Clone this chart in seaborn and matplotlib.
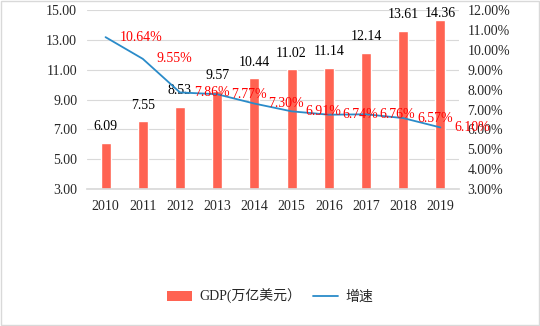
import matplotlib
matplotlib.use("Agg")
import matplotlib.pyplot as plt
import seaborn as sns
import pandas as pd
from matplotlib.patches import Rectangle, Patch
from matplotlib.lines import Line2D

years = ["2010", "2011", "2012", "2013", "2014", "2015", "2016", "2017", "2018", "2019"]
gdp = [6.09, 7.55, 8.53, 9.57, 10.44, 11.02, 11.14, 12.14, 13.61, 14.36]
growth = [10.64, 9.55, 7.86, 7.77, 7.30, 6.91, 6.74, 6.76, 6.57, 6.10]

sns.set_theme(style="white")
plt.rcParams['font.family'] = ['Liberation Serif', 'Noto Sans CJK SC', 'DejaVu Sans']

bar_color = "#FF6352"
line_color = "#2A8BC9"
fs = 10

df = pd.DataFrame({"year": years, "gdp": gdp, "growth": growth})

fig = plt.figure(figsize=(5.4, 3.26), dpi=100)
fig.patches.append(Rectangle((0.001, 0.002), 0.997, 0.995, transform=fig.transFigure,
                             fill=False, edgecolor="#D9D9D9", linewidth=1.0))
ax = fig.add_axes([0.161, 0.42, 0.689, 0.549])

sns.barplot(data=df, x="year", y="gdp", color=bar_color, width=0.27, saturation=1,
            ax=ax, zorder=2)
ax.set_ylim(3, 15)
ax.set_yticks([3, 5, 7, 9, 11, 13, 15])
ax.set_yticklabels([f"{v:.2f}" for v in [3, 5, 7, 9, 11, 13, 15]])
ax.set_xlim(-0.5, 9.5)
ax.grid(axis="y", color="#D9D9D9", linewidth=0.8, zorder=0)
ax.set_axisbelow(True)
for s in ["top", "left", "right"]:
    ax.spines[s].set_visible(False)
ax.spines["bottom"].set_color("#D9D9D9")
ax.set_xlabel("")
ax.set_ylabel("")
ax.tick_params(axis="both", length=0, labelsize=fs)
ax.tick_params(axis="x", pad=8)
ax.tick_params(axis="y", pad=7)

# bar value labels: centered ~16px above bar top, clamped inside the plot area
fig.canvas.draw()
top_limit = ax.bbox.y1 - 3
for i, v in enumerate(gdp):
    bar_top = ax.transData.transform((i, v))[1]
    center = min(bar_top + 16, top_limit)
    off_pt = (center - bar_top) * 72 / fig.dpi
    ax.annotate(f"{v:.2f}", (i, v), xytext=(0, off_pt), textcoords="offset points",
                ha="center", va="center", fontsize=fs, color="black")

ax2 = ax.twinx()
sns.lineplot(x=list(range(len(years))), y=growth, ax=ax2, color=line_color, linewidth=1.3)
ax2.set_ylim(3, 12)
ticks2 = list(range(3, 13))
ax2.set_yticks(ticks2)
ax2.set_yticklabels([f"{t:.2f}%" for t in ticks2])
ax2.tick_params(axis="y", length=0, labelsize=fs, pad=6)
for s in ["top", "left", "right", "bottom"]:
    ax2.spines[s].set_visible(False)
ax2.set_ylabel("")
ax2.set_xlim(-0.5, 9.5)

for i, v in enumerate(growth):
    ax2.annotate(f"{v:.2f}%", (i, v), xytext=(10, 0), textcoords="offset points",
                 ha="left", va="center", fontsize=fs, color="#FF0000")

handles = [Patch(facecolor=bar_color, edgecolor="none"),
           Line2D([0], [0], color=line_color, linewidth=1.3)]
fig.legend(handles, ["GDP(万亿美元）", "增速"], loc="center", bbox_to_anchor=(0.5, 0.09),
           ncol=2, frameon=False, fontsize=fs, handlelength=1.8, handleheight=0.7,
           columnspacing=0.8, handletextpad=0.55)

fig.savefig("out.png", dpi=100)
